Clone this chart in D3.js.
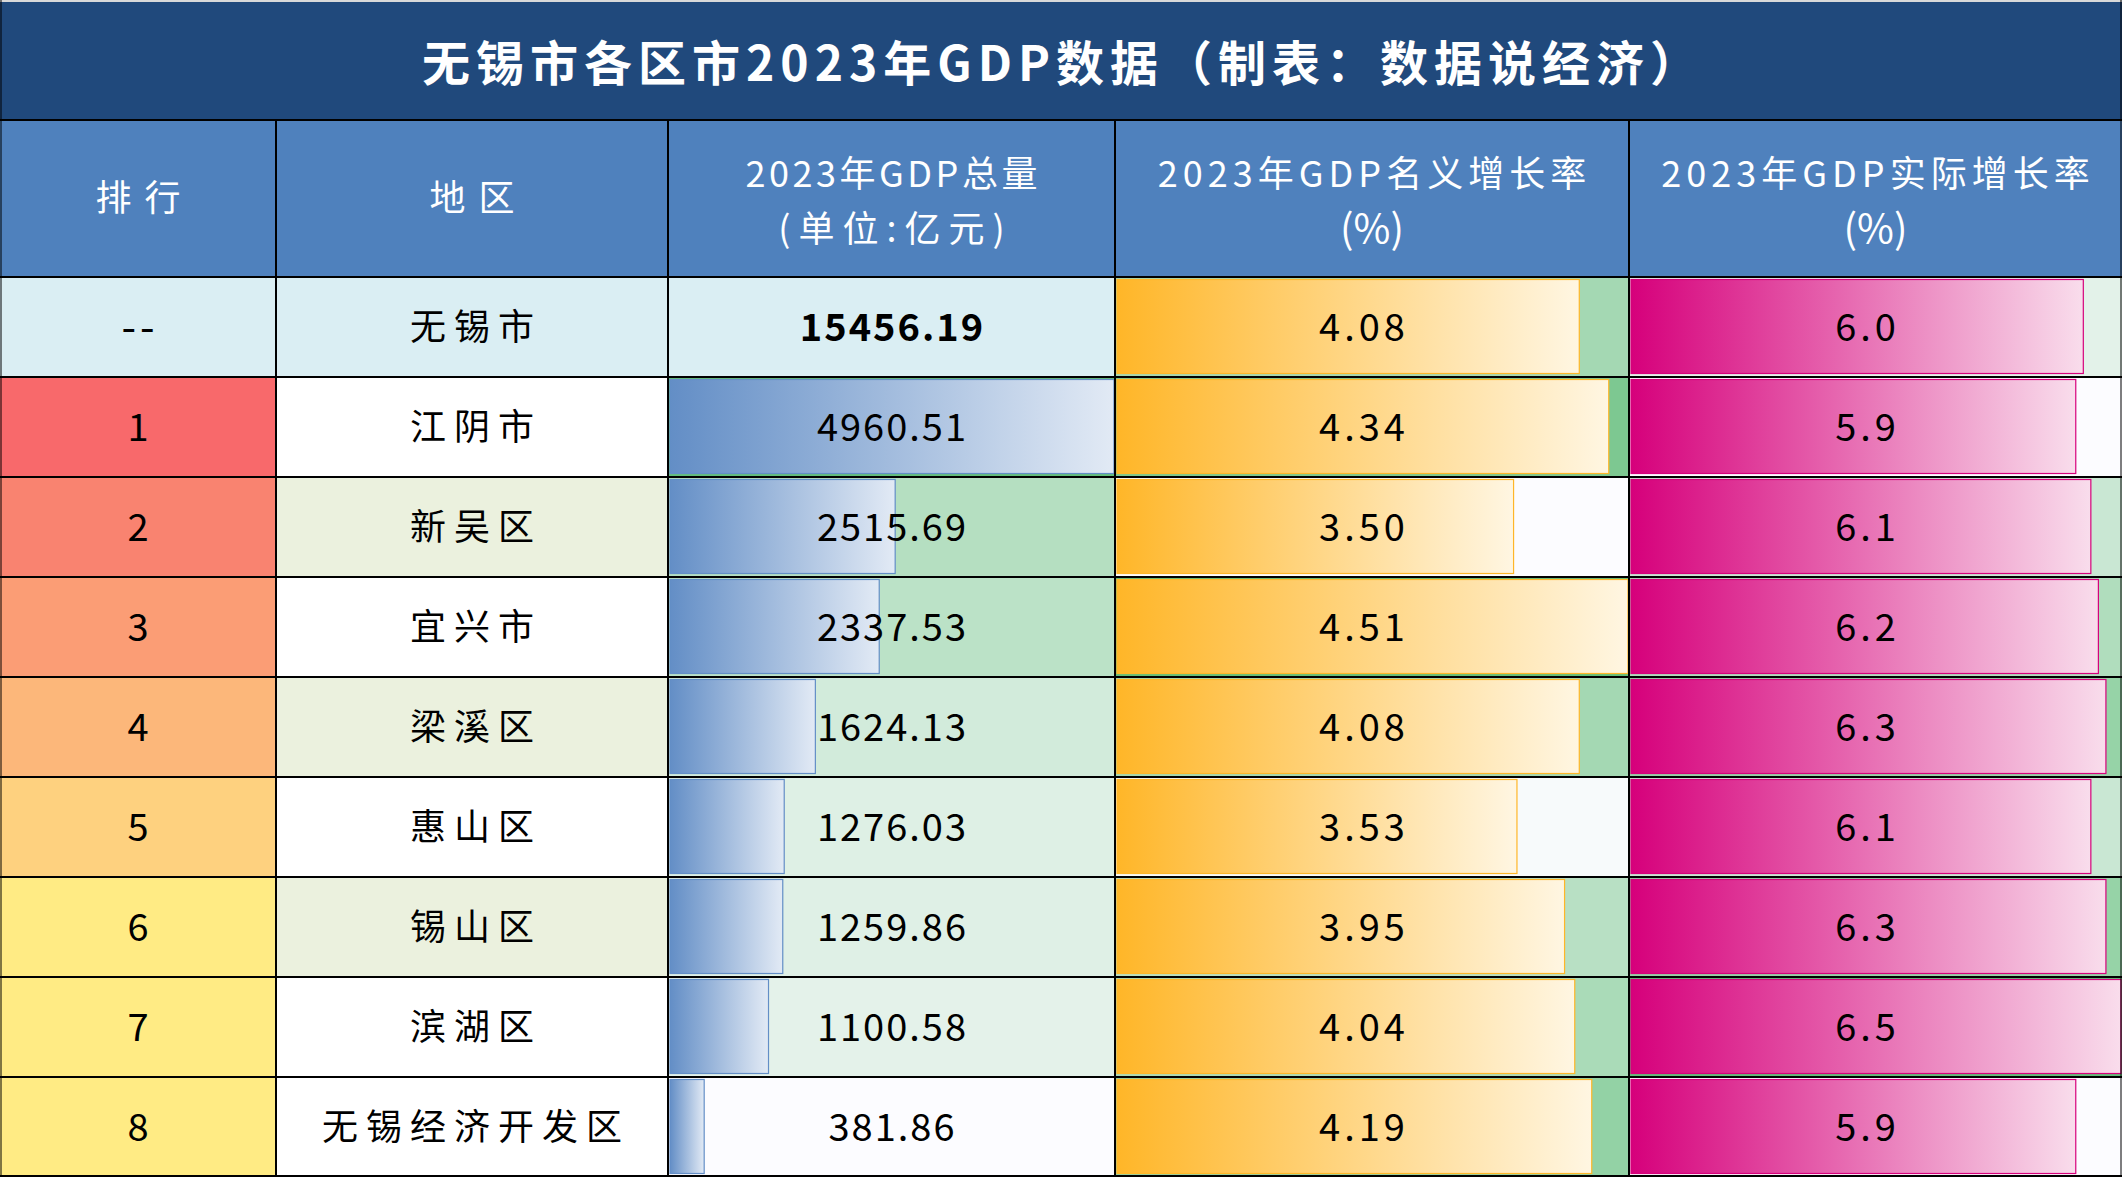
<!DOCTYPE html>
<html><head><meta charset="utf-8">
<script src="https://cdn.jsdelivr.net/npm/d3@7"></script>
<style>html,body{margin:0;padding:0;background:#fff;overflow:hidden}</style>
</head><body><svg id="c"></svg>
<script>
// ---------- data ----------
const titleText = "无锡市各区市2023年GDP数据（制表：数据说经济）";
const headerLines = [["排行"], ["地区"], ["2023年GDP总量", "(单位:亿元)"], ["2023年GDP名义增长率", "(%)"], ["2023年GDP实际增长率", "(%)"]];
const ranks = ["--", "1", "2", "3", "4", "5", "6", "7", "8"];
const regions = ["无锡市", "江阴市", "新吴区", "宜兴市", "梁溪区", "惠山区", "锡山区", "滨湖区", "无锡经济开发区"];
const gdp = [15456.19, 4960.51, 2515.69, 2337.53, 1624.13, 1276.03, 1259.86, 1100.58, 381.86];
const nominalGrowth = [4.08, 4.34, 3.50, 4.51, 4.08, 3.53, 3.95, 4.04, 4.19];
const realGrowth = [6.0, 5.9, 6.1, 6.2, 6.3, 6.1, 6.3, 6.5, 5.9];
const decimals = [2, 2, 1];

// ---------- layout ----------
const W = 2122, H = 1177;
const titleH = 120, headerBottom = 277;
const colX = [0, 276, 668, 1115, 1629, 2122];
const FONT = "'Noto Sans CJK SC','Noto Sans',sans-serif";
const svg = d3.select("#c").attr("width", W).attr("height", H).style("display", "block");

const rowScale = d3.scaleBand().domain(d3.range(regions.length)).range([headerBottom, H]);
const bw = rowScale.bandwidth();
const colW = c => colX[c + 1] - colX[c];

// colour scales (Excel-style)
const white = "#FCFCFF", green = "#63BE7B";
const districtGdp = gdp.slice(1);
const gdpBg = d3.scaleLinear().domain(d3.extent(districtGdp)).range([white, green]);
const nomBg = d3.scaleLinear().domain(d3.extent(nominalGrowth)).range([white, green]);
const realBg = d3.scaleLinear().domain(d3.extent(realGrowth)).range([white, green]);
const rankColor = d3.scaleLinear().domain([1, 6]).range(["#F8696B", "#FFEB84"]).clamp(true);

// bar scales
const gdpX = d3.scaleLinear().domain([0, d3.max(districtGdp)]).range([0, colW(2) - 3]);
const nomX = d3.scaleLinear().domain([0, d3.max(nominalGrowth)]).range([0, colW(3) - 3]);
const realX = d3.scaleLinear().domain([0, d3.max(realGrowth)]).range([0, colW(4) - 3]);

// gradients
const defs = svg.append("defs");
const grads = [["gBlue", "#638EC6", "#E2EAF5"], ["gOrange", "#FFB628", "#FFF6E2"], ["gPink", "#D6007B", "#F9DDEC"]];
grads.forEach(([id, a, b]) => {
  const g = defs.append("linearGradient").attr("id", id).attr("x1", 0).attr("x2", 1).attr("y1", 0).attr("y2", 0);
  g.append("stop").attr("offset", 0).attr("stop-color", a);
  g.append("stop").attr("offset", 1).attr("stop-color", b);
});

// ---------- title ----------
svg.append("rect").attr("x", 0).attr("y", 0).attr("width", W).attr("height", titleH).attr("fill", "#20497C");
svg.append("rect").attr("x", 0).attr("y", 0).attr("width", W).attr("height", 2).attr("fill", "#D9D9D9");
svg.append("text").attr("x", 1063).attr("y", 64).attr("dy", "0.36em")
  .attr("text-anchor", "middle").attr("fill", "#fff").attr("font-family", FONT)
  .attr("font-weight", "bold").attr("font-size", 48).attr("letter-spacing", 6)
  .text(titleText);

// ---------- header ----------
svg.append("rect").attr("x", 0).attr("y", titleH).attr("width", W).attr("height", headerBottom - titleH).attr("fill", "#4F81BD");
const headerSpacing = t => t.length <= 2 ? 13 : t.length <= 3 ? 0 : t.length <= 7 ? 8 : t.length <= 10 ? 3.5 : 5;
headerLines.forEach((lines, c) => {
  const cx = (colX[c] + colX[c + 1]) / 2;
  const ys = lines.length === 1 ? [198] : [174, 229];
  lines.forEach((t, k) => {
    const ls = headerSpacing(t);
    svg.append("text").attr("x", cx + ls / 2).attr("y", ys[k]).attr("dy", "0.36em")
      .attr("text-anchor", "middle").attr("fill", "#fff").attr("font-family", FONT)
      .attr("font-size", t.length <= 3 && lines.length > 1 ? 40 : 36).attr("letter-spacing", ls)
      .text(t);
  });
});

// ---------- body ----------
const body = svg.append("g");
regions.forEach((name, i) => {
  const y = rowScale(i);
  const rankNum = +ranks[i];
  const bgs = [
    i === 0 ? "#DAEEF3" : rankColor(rankNum),
    i === 0 ? "#DAEEF3" : (rankNum % 2 === 0 && rankNum < 8 ? "#EBF1DE" : "#FFFFFF"),
    i === 0 ? "#DAEEF3" : gdpBg(gdp[i]),
    nomBg(nominalGrowth[i]),
    realBg(realGrowth[i])
  ];
  bgs.forEach((col, c) => {
    body.append("rect").attr("x", colX[c]).attr("y", y).attr("width", colW(c)).attr("height", bw).attr("fill", col);
  });
  // bars
  const bars = [];
  if (i > 0) bars.push([2, gdpX(gdp[i]), "gBlue", "#638EC6"]);
  bars.push([3, nomX(nominalGrowth[i]), "gOrange", "#FFB628"]);
  bars.push([4, realX(realGrowth[i]), "gPink", "#D6007B"]);
  bars.forEach(([c, w, g, s]) => {
    body.append("rect").attr("x", colX[c] + 2).attr("y", y + 2.5).attr("width", w).attr("height", bw - 6)
      .attr("fill", `url(#${g})`).attr("stroke", s).attr("stroke-width", 1.2);
  });
  // texts: [col, text, font size, letter spacing, weight, x shift]
  const texts = [
    [0, ranks[i], i === 0 ? 42 : 38, i === 0 ? 4 : 0, "normal", 0],
    [1, name, 36, 8, "normal", 0],
    [2, gdp[i].toFixed(decimals[0]), 38, 2, i === 0 ? "bold" : "normal", 0],
    [3, nominalGrowth[i].toFixed(decimals[1]), 38, 4, "normal", -10],
    [4, realGrowth[i].toFixed(decimals[2]), 38, 4, "normal", -10]
  ];
  texts.forEach(([c, t, fs, ls, fw, dx]) => {
    body.append("text").attr("x", (colX[c] + colX[c + 1]) / 2 + ls / 2 + dx).attr("y", y + bw / 2).attr("dy", "0.36em")
      .attr("text-anchor", "middle").attr("font-family", FONT).attr("font-size", fs)
      .attr("letter-spacing", ls).attr("font-weight", fw).attr("fill", "#000").text(t);
  });
});

// ---------- grid ----------
const grid = svg.append("g").attr("stroke", "#000").attr("stroke-width", 2);
[titleH, headerBottom].concat(d3.range(1, regions.length).map(i => rowScale(i))).concat([H - 1]).forEach(y => {
  grid.append("line").attr("x1", 0).attr("x2", W).attr("y1", y).attr("y2", y);
});
colX.slice(1, -1).forEach(x => {
  grid.append("line").attr("x1", x).attr("x2", x).attr("y1", titleH).attr("y2", H);
});
grid.append("line").attr("x1", 1).attr("x2", 1).attr("y1", 0).attr("y2", H).attr("stroke-width", 1);
grid.append("line").attr("x1", W - 1).attr("x2", W - 1).attr("y1", 0).attr("y2", H).attr("stroke-width", 1);
</script>
</body></html>
